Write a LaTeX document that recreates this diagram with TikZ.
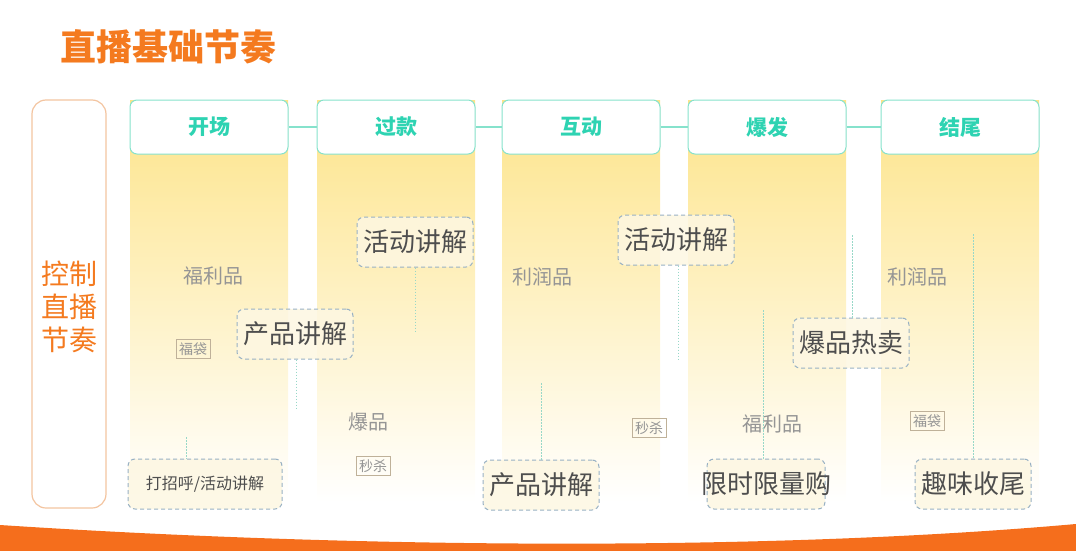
\documentclass[tikz,border=0pt]{standalone}
\usepackage{fontspec}
\setmainfont{Noto Sans CJK SC}
\usetikzlibrary{positioning}

\definecolor{brand}{HTML}{F47A1F}
\definecolor{peach}{HTML}{F3C4A0}
\definecolor{mint}{HTML}{86E2CC}
\definecolor{minttext}{HTML}{2ED3B2}
\definecolor{sun}{HTML}{FDE48A}
\definecolor{ink}{HTML}{4E4E4E}
\definecolor{soft}{HTML}{959595}
\definecolor{dashblue}{HTML}{98B1C4}
\definecolor{cream}{HTML}{FDF7E2}
\definecolor{tagline}{HTML}{BFB199}
\definecolor{thread}{HTML}{98D8C8}

\tikzset{
  stage/.style={draw=mint, line width=1pt, fill=white, rounded corners=7pt, minimum width=158pt,
    minimum height=54pt, text=minttext, font=\fontsize{21}{21}\selectfont\bfseries},
  talk/.style={draw=dashblue, line width=1pt, dash pattern=on 4pt off 3pt, rounded corners=7pt,
    fill=cream, fill opacity=0.85, text opacity=1, text=ink, minimum height=50pt,
    inner xsep=6pt, font=\fontsize{26}{26}\selectfont},
  kind/.style={text=soft, font=\fontsize{20}{20}\selectfont},
  tag/.style={draw=tagline, line width=0.7pt, text=soft, inner sep=3pt,
    font=\fontsize{14}{14}\selectfont},
  thread/.style={draw=thread, line width=1pt, dash pattern=on 1.5pt off 1.5pt},
  wire/.style={draw=mint, line width=1.2pt}
}

\begin{document}
\begin{tikzpicture}[x=1pt,y=-1pt]
\useasboundingbox (0,0) rectangle (1076,551);

% title
\node[text=brand, font=\fontsize{36}{36}\selectfont\bfseries] (title) at (168,47) {直播基础节奏};

% left box
\node[draw=peach, line width=1.2pt, rounded corners=14pt, minimum width=74pt,
  minimum height=408pt] (ctrl) at (69,304) {};
\node[text=brand, align=center, font=\fontsize{28}{33}\selectfont] (ctrltext) at (69,307) {控制\\直播\\节奏};

% yellow columns
\foreach \x in {130,317,502,688,881}
  \shade[top color=sun, middle color=sun!65, bottom color=white]
    (\x,100) rectangle ++(158,402);

% headers
\node[stage] (h1) at (209,127) {开场};
\node[stage] (h2) at (396,127) {过款};
\node[stage] (h3) at (581,127) {互动};
\node[stage] (h4) at (767,127) {爆发};
\node[stage] (h5) at (960,127) {结尾};
\draw[wire] (h1) -- (h2);
\draw[wire] (h2) -- (h3);
\draw[wire] (h3) -- (h4);
\draw[wire] (h4) -- (h5);

% stage 1
\node[kind] (k1) at (213,276) {福利品};
\node[tag] (t1) at (193,349) {福袋};
\node[talk, minimum width=154pt, font=\fontsize{16}{16}\selectfont] (a1) at (205,484) {打招呼/活动讲解};
\coordinate (e1) at (186,437);
\draw[thread] (e1) -- (a1.north -| e1);
\node[talk] (a2) at (295,334) {产品讲解};
\coordinate (e2) at (296,410);
\draw[thread] (a2.south -| e2) -- (e2);

% stage 2
\node[talk] (a3) at (415,242) {活动讲解};
\coordinate (e3) at (415,332);
\draw[thread] (a3.south -| e3) -- (e3);
\node[kind] (k2) at (368,422) {爆品};
\node[tag] (t2) at (373,466) {秒杀};

% stage 3
\node[kind] (k3) at (542,277) {利润品};
\node[talk] (a4) at (541,485) {产品讲解};
\coordinate (e4) at (541,383);
\draw[thread] (e4) -- (a4.north -| e4);
\node[tag] (t3) at (649,428) {秒杀};
\node[talk] (a5) at (676,240) {活动讲解};
\coordinate (e5) at (678,360);
\draw[thread] (a5.south -| e5) -- (e5);

% stage 4
\node[kind] (k4) at (772,424) {福利品};
\node[talk, inner xsep=-6pt] (a6) at (766,484) {限时限量购};
\coordinate (e6) at (763,310);
\draw[thread] (e6) -- (a6.north -| e6);
\node[talk] (a7) at (851,343) {爆品热卖};
\coordinate (e7) at (852,235);
\draw[thread] (e7) -- (a7.north -| e7);

% stage 5
\node[kind] (k5) at (917,277) {利润品};
\node[tag] (t4) at (927,421) {福袋};
\node[talk] (a8) at (973,484) {趣味收尾};
\coordinate (e8) at (973,234);
\draw[thread] (e8) -- (a8.north -| e8);

% bottom band
\fill[brand!90!red] (0,525) .. controls (350,548) and (760,552) .. (1076,524)
  -- (1076,551) -- (0,551) -- cycle;
\end{tikzpicture}
\end{document}
